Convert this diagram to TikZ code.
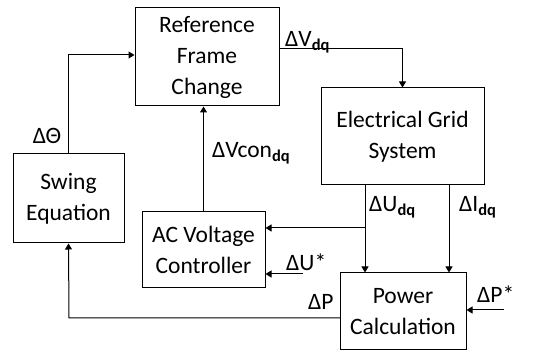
\documentclass[tikz,border=0pt]{standalone}
\usepackage{fontspec}
\setmainfont{Carlito}
\usetikzlibrary{arrows.meta}
\begin{document}
\begin{tikzpicture}[x=1pt,y=-1pt,
  blk/.style={draw,line width=1pt,rectangle,align=center,inner sep=0pt,font=\fontsize{23.5}{31}\selectfont},
  lbl/.style={inner sep=0pt,font=\fontsize{23.5}{27}\selectfont},
  arr/.style={line width=1pt,-{Triangle[width=7pt,length=6pt]}},
  ln/.style={line width=1pt}]
\useasboundingbox (0,0) rectangle (555,352);
\newcommand{\sbq}[1]{\textsubscript{\bfseries #1}}
\node[blk,minimum width=144pt,minimum height=98pt] (rfc) at (207,57) {Reference\\Frame\\Change};
\node[blk,minimum width=163pt,minimum height=97pt] (egs) at (402.5,136.5) {Electrical Grid\\System};
\node[blk,minimum width=111pt,minimum height=89pt] (sw) at (68.5,198.5) {Swing\\Equation};
\node[blk,minimum width=123pt,minimum height=76pt] (avc) at (203.5,250) {AC Voltage\\Controller};
\node[blk,minimum width=126pt,minimum height=77pt] (pc) at (403,311.5) {Power\\Calculation};
% connectors
\draw[arr] (sw.north) |- ([yshift=2pt]rfc.west);
\draw[arr] ([yshift=8pt]rfc.east) -| (egs.north);
\draw[arr] (avc.north) -- (avc.north |- rfc.south);
\coordinate (ut) at (365,185);
\coordinate (ub) at (365,228);
\draw[arr] (ut) -- (ut |- pc.north);
\draw[arr] (ub) -- (ub -| avc.east);
\coordinate (it) at (449,185);
\draw[arr] (it) -- (it |- pc.north);
\coordinate (us) at (303,274);
\draw[arr] (us) -- (us -| avc.east);
\coordinate (ps) at (504,310);
\draw[arr] (ps) -- (ps -| pc.east);
\coordinate (pl) at (340,318);
\coordinate (pc2) at (69,318);
\draw[arr] (pl) -- (pc2) -- (sw.south);
% labels
\node[lbl] (lth) at (47,136) {ΔΘ};
\node[lbl,anchor=west] (lvdq) at (285,42) {ΔV\sbq{dq}};
\node[lbl,anchor=west] (lvcon) at (212,153) {ΔVcon\sbq{dq}};
\node[lbl,anchor=west] (lu) at (369,207) {ΔU\sbq{dq}};
\node[lbl,anchor=west] (li) at (459,207) {ΔI\sbq{dq}};
\node[lbl,anchor=west] (lus) at (286,262) {ΔU*};
\node[lbl,anchor=west] (lps) at (477,294) {ΔP*};
\node[lbl,anchor=west] (lp) at (308,302) {ΔP};
\end{tikzpicture}
\end{document}
